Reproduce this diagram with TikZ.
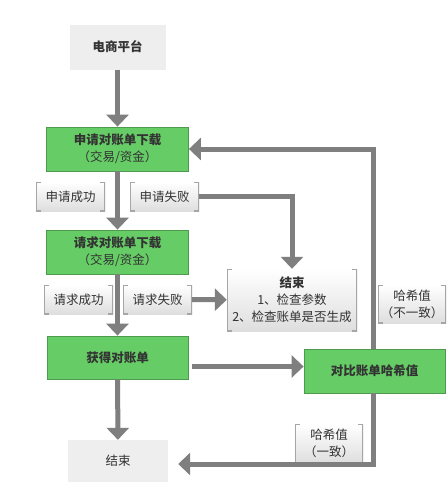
\documentclass[tikz,border=0pt]{standalone}
\usepackage{fontspec}
\setmainfont{Noto Sans CJK SC}
\usepackage{xcolor}
\usepackage{tikz}
\usetikzlibrary{positioning, arrows.meta}
\definecolor{flowgray}{HTML}{7F7F7F}
\definecolor{boxgreen}{HTML}{66CC66}
\definecolor{greenedge}{HTML}{4E9A4E}
\definecolor{lightgray}{HTML}{EEEEEE}
\definecolor{textgray}{HTML}{333333}
\definecolor{bracketgray}{HTML}{A6A6A6}

\tikzset{
  stepbox/.style={fill=boxgreen, draw=greenedge, line width=0.8pt,
    minimum width=142pt, minimum height=44pt, inner sep=0pt, align=center},
  plainbox/.style={fill=lightgray, minimum height=43pt, inner sep=0pt, align=center},
  tagbox/.style={top color=white, bottom color=black!13, inner sep=0pt,
    minimum width=69pt, minimum height=29pt, align=center,
    path picture={
      \draw[bracketgray, line width=1.6pt]
        ([xshift=5pt]path picture bounding box.north west)
        -- (path picture bounding box.north west)
        -- (path picture bounding box.south west) -- ++(5pt,0);
      \draw[bracketgray, line width=1.6pt]
        ([xshift=-5pt]path picture bounding box.north east)
        -- (path picture bounding box.north east)
        -- (path picture bounding box.south east) -- ++(-5pt,0);}},
  flow/.style={draw=flowgray, line width=5pt,
    -{Triangle[width=22pt, length=12pt]}}
}

\begin{document}
\begin{tikzpicture}[x=1pt, y=-1pt, text=textgray,
    font=\fontsize{12.5}{17}\selectfont]
  \useasboundingbox[fill=white] (0,0) rectangle (447,482);

  % main column
  \node[plainbox, minimum width=96pt, minimum height=45pt] (plat) at (117.5,47) {\textbf{电商平台}};
  \node[stepbox] (apply) at (117.5,149) {\textbf{申请对账单下载}\\（交易/资金）};
  \node[stepbox] (req) at (117.5,252) {\textbf{请求对账单下载}\\（交易/资金）};
  \node[stepbox, minimum width=141pt, minimum height=43pt] (get) at (117.5,357.5) {\textbf{获得对账单}};
  \node[plainbox, minimum width=100pt, minimum height=42pt] (endb) at (118,461) {结束};

  % labels
  \node[tagbox] (ok1) at (70.5,196.5) {申请成功};
  \node[tagbox] (fail1) at (164.5,196.5) {申请失败};
  \node[tagbox] (ok2) at (78.5,299.5) {请求成功};
  \node[tagbox] (fail2) at (157.5,299.5) {请求失败};

  % right side
  \node[tagbox, minimum width=130pt, minimum height=62pt] (end1) at (292,300)
    {\textbf{结束}\\1、检查参数\\2、检查账单是否生成};
  \node[stepbox, minimum width=141pt] (cmp) at (374.5,371) {\textbf{对比账单哈希值}};
  \node[tagbox, minimum width=68pt, minimum height=38pt] (neq) at (412,304) {哈希值\\（不一致）};
  \node[tagbox, minimum width=68pt, minimum height=38pt] (eq) at (329,443.5) {哈希值\\（一致）};

  % connectors
  \draw[flow] (plat) -- (apply);
  \draw[flow] (apply) -- (req);
  \draw[flow] (req) -- (get);
  \draw[flow] (get) -- (endb);
  \draw[flow] (fail1.east) -| (end1.north);
  \draw[flow] (fail2) -- (end1);
  \draw[flow, shorten <=4pt] ([yshift=-9pt]get.east) -- ([yshift=-9pt]get.east -| cmp.west);
  \draw[flow] ([xshift=-1.5pt]cmp.north) |- (apply.east);
  \draw[flow, shorten >=10pt] ([xshift=-1.5pt]cmp.south) |- ([yshift=-3pt]endb.east);
\end{tikzpicture}
\end{document}
